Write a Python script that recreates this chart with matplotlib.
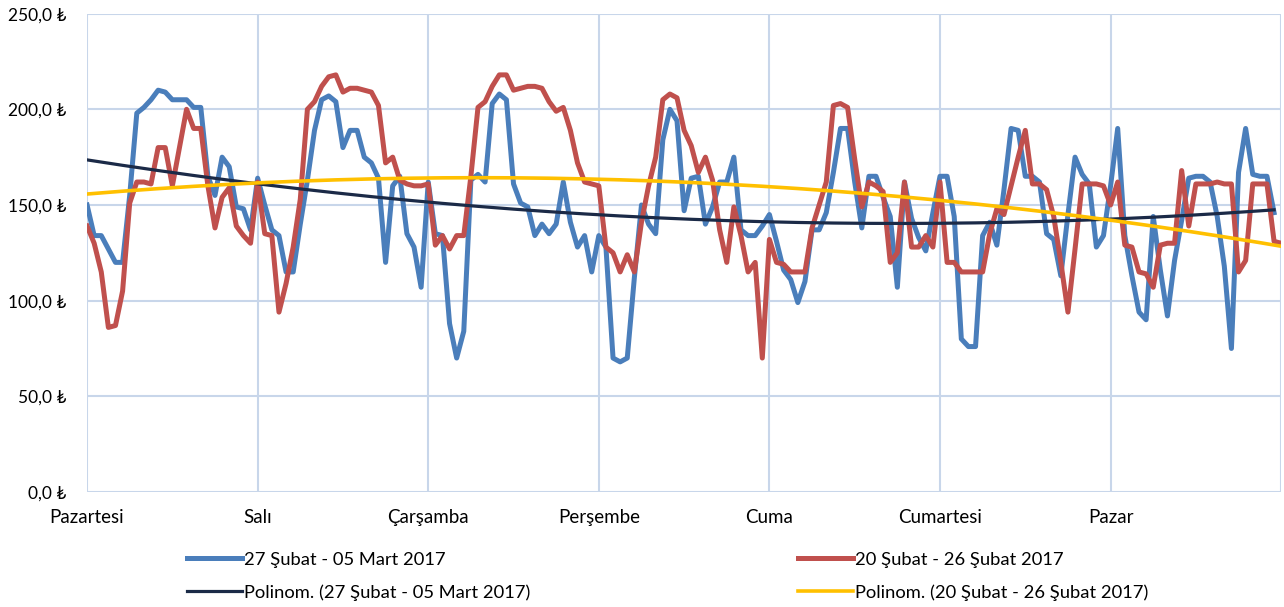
import numpy as np
import matplotlib
matplotlib.use("Agg")
import matplotlib.pyplot as plt
from matplotlib.ticker import FuncFormatter

plt.rcParams['font.family'] = ['Lato', 'Noto Sans', 'DejaVu Sans']

# hourly prices, one week each
week_mar = [150, 134, 134, 127, 120, 120, 155, 198, 201, 205, 210, 209, 205, 205, 205, 201, 201, 165, 155, 175, 170, 149, 148, 137,
            164, 150, 137, 134, 115, 115, 140, 163, 189, 205, 207, 204, 180, 189, 189, 175, 172, 164, 120, 160, 165, 135, 128, 107,
            162, 135, 134, 88, 70, 84, 163, 166, 162, 203, 208, 205, 161, 151, 149, 134, 140, 135, 140, 162, 141, 128, 134, 115,
            134, 128, 70, 68, 70, 112, 150, 140, 135, 184, 200, 194, 147, 164, 165, 140, 149, 162, 162, 175, 137, 134, 134, 139,
            145, 131, 116, 111, 99, 110, 137, 137, 146, 167, 190, 190, 162, 138, 165, 165, 154, 144, 107, 162, 143, 133, 126, 146,
            165, 165, 144, 80, 76, 76, 134, 141, 129, 158, 190, 189, 165, 165, 162, 135, 132, 113, 145, 175, 166, 161, 128, 134,
            160, 190, 134, 113, 94, 90, 144, 116, 92, 121, 142, 164, 165, 165, 162, 144, 118, 75, 167, 190, 166, 165, 165, 146]
week_feb = [139, 130, 115, 86, 87, 105, 151, 162, 162, 161, 180, 180, 160, 180, 200, 190, 190, 160, 138, 154, 159, 139, 134, 130,
            162, 135, 134, 94, 109, 128, 153, 200, 204, 212, 217, 218, 209, 211, 211, 210, 209, 202, 172, 175, 163, 161, 160, 160,
            161, 129, 134, 127, 134, 134, 165, 201, 204, 212, 218, 218, 210, 211, 212, 212, 211, 204, 199, 201, 189, 172, 162, 161,
            160, 128, 125, 115, 124, 115, 141, 160, 175, 205, 208, 206, 189, 181, 167, 175, 163, 137, 120, 149, 134, 115, 120, 70,
            132, 120, 119, 115, 115, 115, 138, 150, 162, 202, 203, 201, 174, 149, 162, 160, 157, 120, 125, 162, 128, 128, 134, 128,
            162, 120, 120, 115, 115, 115, 115, 135, 148, 145, 160, 175, 189, 161, 161, 158, 144, 120, 94, 127, 161, 161, 161, 160,
            150, 162, 129, 128, 115, 114, 107, 129, 130, 130, 168, 139, 161, 161, 161, 162, 161, 161, 115, 121, 161, 161, 161, 131,
            130]
days = ["Pazartesi", "Salı", "Çarşamba", "Perşembe", "Cuma", "Cumartesi", "Pazar"]
lbl_mar = "27 Şubat - 05 Mart 2017"
lbl_feb = "20 Şubat - 26 Şubat 2017"

x_mar = np.arange(len(week_mar))
x_feb = np.arange(len(week_feb))

# polynomial trend lines (order 2)
fit_mar = np.polyval(np.polyfit(x_mar, week_mar, 2), x_mar)
fit_feb = np.polyval(np.polyfit(x_feb, week_feb, 2), x_feb)

fig = plt.figure(figsize=(12.84, 6.07), dpi=100)
ax = fig.add_axes([0.0678, 0.1895, 0.930, 0.788])

grid_c = '#C8D6EA'
ax.plot(x_mar, week_mar, color='#4A7EBB', lw=3.6, label=lbl_mar, zorder=3)
ax.plot(x_feb, week_feb, color='#C0504D', lw=3.6, label=lbl_feb, zorder=3)
ax.plot(x_mar, fit_mar, color='#1B2A47', lw=2.3, label="Polinom. (" + lbl_mar + ")", zorder=4)
ax.plot(x_feb, fit_feb, color='#FFC000', lw=2.6, label="Polinom. (" + lbl_feb + ")", zorder=4)

ax.set_xlim(0, 168)
ax.set_ylim(0, 250)
ax.set_yticks(np.arange(0, 251, 50))
ax.yaxis.set_major_formatter(FuncFormatter(lambda v, p: f"{v:.1f}".replace('.', ',') + " ₺"))
ax.set_xticks(np.arange(0, 169, 24))
ax.set_xticklabels(days + [""])
ax.tick_params(axis='both', length=0)
ax.tick_params(axis='y', pad=15, labelsize=12.5)
ax.tick_params(axis='x', pad=12, labelsize=13.5)

ax.grid(True, color=grid_c, lw=1.5)
ax.set_axisbelow(True)
for s in ax.spines.values():
    s.set_visible(False)

h, l = ax.get_legend_handles_labels()
order = [0, 2, 1, 3]
fig.legend([h[i] for i in order], [l[i] for i in order], ncol=2, loc='center',
           bbox_to_anchor=(0.52, 0.051), frameon=False, fontsize=13.2,
           handlelength=3.0, handletextpad=0.1, columnspacing=14.6, labelspacing=0.9)

fig.savefig("out.png", dpi=100)
